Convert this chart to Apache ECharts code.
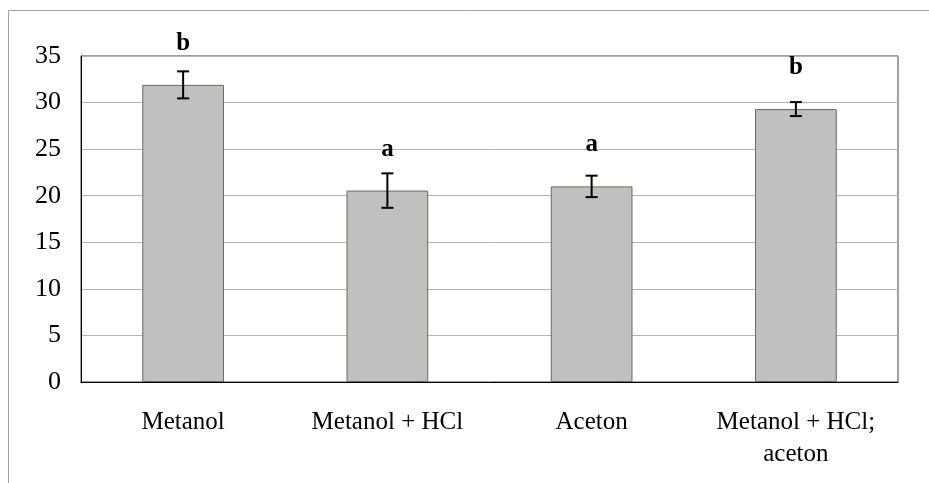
<!DOCTYPE html>
<html>
<head>
<meta charset="utf-8">
<script src="https://cdn.jsdelivr.net/npm/echarts@6/dist/echarts.min.js"></script>
<style>
  html, body { margin: 0; padding: 0; background: #ffffff; }
  #chart { width: 929px; height: 483px; }
</style>
</head>
<body>
<div id="chart"></div>
<script>
// Extraction solvents and measured means with their error margins
const categories = ['Metanol', 'Metanol + HCl', 'Aceton', 'Metanol + HCl;\naceton'];
const means = [31.9, 20.55, 21.0, 29.3];
const errors = [1.45, 1.85, 1.15, 0.75];
const groupLetters = ['b', 'a', 'a', 'b'];
const yTicks = { min: 0, max: 35, step: 5 };

const FONT = '"Liberation Serif", "Times New Roman", serif';

const errorData = means.map((m, i) => [i, m - errors[i], m + errors[i], groupLetters[i], m]);

const chart = echarts.init(document.getElementById('chart'), null, { renderer: 'canvas' });

chart.setOption({
  animation: false,
  backgroundColor: '#ffffff',
  graphic: [{
    type: 'rect',
    silent: true,
    shape: { x: 8.5, y: 10.5, width: 1200, height: 1000 },
    style: { fill: 'none', stroke: '#a0a0a0', lineWidth: 1 }
  }],
  grid: {
    left: 81, right: 31, top: 56, bottom: 101,
    show: true, borderColor: '#404040', borderWidth: 1, backgroundColor: 'transparent'
  },
  xAxis: {
    type: 'category',
    data: categories,
    axisLine: { lineStyle: { color: '#000000', width: 1 } },
    axisTick: { show: false },
    axisLabel: {
      interval: 0, margin: 24,
      fontFamily: FONT, fontSize: 25, color: '#000000', lineHeight: 32
    }
  },
  yAxis: {
    type: 'value',
    min: yTicks.min, max: yTicks.max, interval: yTicks.step,
    axisLine: { show: true, lineStyle: { color: '#000000', width: 1 } },
    axisTick: { show: false },
    axisLabel: { margin: 20, fontFamily: FONT, fontSize: 26, color: '#000000' },
    splitLine: { lineStyle: { color: '#b4b4b4', width: 1 } }
  },
  series: [
    {
      type: 'bar',
      data: means,
      barWidth: '40%',
      itemStyle: { color: '#c0c0c0', borderColor: '#6b6b4e', borderWidth: 1 },
      z: 2
    },
    {
      type: 'custom',
      data: errorData,
      z: 5,
      renderItem: function (params, api) {
        const x = api.coord([api.value(0), 0])[0];
        const low = api.coord([api.value(0), api.value(1)])[1];
        const high = api.coord([api.value(0), api.value(2)])[1];
        const top = api.coord([api.value(0), api.value(4)])[1];
        const cap = 6;
        const stroke = { stroke: '#000000', lineWidth: 2 };
        return {
          type: 'group',
          children: [
            { type: 'line', shape: { x1: x, y1: high, x2: x, y2: low }, style: stroke },
            { type: 'line', shape: { x1: x - cap, y1: high, x2: x + cap, y2: high }, style: stroke },
            { type: 'line', shape: { x1: x - cap, y1: low, x2: x + cap, y2: low }, style: stroke },
            {
              type: 'text',
              style: {
                x: x, y: top - 29,
                text: api.value(3),
                textAlign: 'center', textVerticalAlign: 'bottom',
                font: 'bold 25px ' + FONT, fill: '#000000'
              }
            }
          ]
        };
      }
    }
  ]
});
</script>
</body>
</html>
